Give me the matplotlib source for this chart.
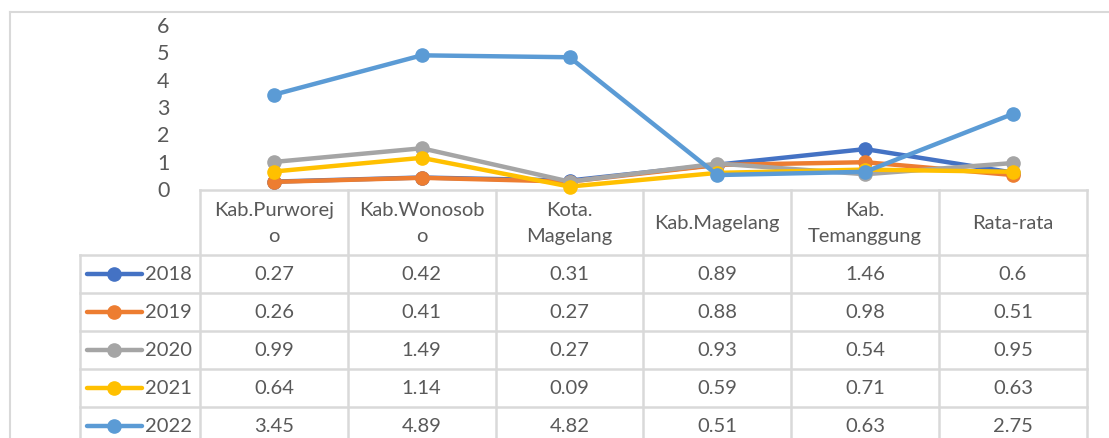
import matplotlib.pyplot as plt
from matplotlib.lines import Line2D

plt.rcParams['font.family'] = ['Lato', 'DejaVu Sans']

# data
regions = ['Kab.Purworej\no', 'Kab.Wonosob\no', 'Kota.\nMagelang', 'Kab.Magelang', 'Kab.\nTemanggung', 'Rata-rata']
years = ['2018', '2019', '2020', '2021', '2022']
v2018 = [0.27, 0.42, 0.31, 0.89, 1.46, 0.6]
v2019 = [0.26, 0.41, 0.27, 0.88, 0.98, 0.51]
v2020 = [0.99, 1.49, 0.27, 0.93, 0.54, 0.95]
v2021 = [0.64, 1.14, 0.09, 0.59, 0.71, 0.63]
v2022 = [3.45, 4.89, 4.82, 0.51, 0.63, 2.75]
series = [v2018, v2019, v2020, v2021, v2022]
colors = ['#4472C4', '#ED7D31', '#A5A5A5', '#FFC000', '#5B9BD5']

W, H = 1109, 438
fig = plt.figure(figsize=(W / 100, H / 100), dpi=100)
txt = '#595959'
grid = '#D9D9D9'
fs = 14.5

# overlay axes in pixel coords for frame + data table
ov = fig.add_axes([0, 0, 1, 1], zorder=0)
ov.set_xlim(0, W)
ov.set_ylim(H, 0)
ov.axis('off')

# chart border
ov.plot([10, 10], [12, H], color=grid, lw=1.5)
ov.plot([10, W], [12, 12], color=grid, lw=1.5)

col_x = [200 + i * 147.8 for i in range(7)]
row_y = [190, 255, 293, 331, 369, 407, 445]

# table lines
ov.plot([col_x[0], col_x[-1]], [row_y[0], row_y[0]], color=grid, lw=1.8)
for y in row_y[1:-1]:
    ov.plot([80, col_x[-1]], [y, y], color=grid, lw=1.8)
for x in col_x:
    ov.plot([x, x], [row_y[0], H], color=grid, lw=1.8)
ov.plot([80, 80], [row_y[1], H], color=grid, lw=1.8)

# header
for i, name in enumerate(regions):
    cx = (col_x[i] + col_x[i + 1]) / 2
    ov.text(cx, (row_y[0] + row_y[1]) / 2 + 1, name, ha='center', va='center',
            fontsize=fs, color=txt, linespacing=1.7)

# rows
for r, (yr, vals, c) in enumerate(zip(years, series, colors)):
    cy = (row_y[r + 1] + row_y[r + 2]) / 2
    ov.add_line(Line2D([87, 142], [cy, cy], color=c, lw=3.2,
                       solid_capstyle='round'))
    ov.plot([114], [cy], 'o', color=c, ms=9.5)
    ov.text(145, cy, yr, ha='left', va='center', fontsize=fs, color=txt)
    for i, v in enumerate(vals):
        cx = (col_x[i] + col_x[i + 1]) / 2
        ov.text(cx, cy, f'{v:g}', ha='center', va='center', fontsize=fs, color=txt)

# main plot
ax = fig.add_axes([200 / W, (H - 189) / H, 887 / W, 164 / H], zorder=2)
ax.patch.set_alpha(0)
x = list(range(len(regions)))
for vals, c in zip(series, colors):
    ax.plot(x, vals, color=c, lw=3.2, marker='o', ms=9.5, clip_on=False,
            solid_capstyle='round')
ax.set_xlim(-0.5, 5.5)
ax.set_ylim(0, 6)
ax.set_yticks(range(7))
ax.set_xticks([])
for s in ax.spines.values():
    s.set_visible(False)
ax.tick_params(axis='y', length=0, pad=22, labelsize=15.5, labelcolor=txt)

fig.savefig('out.png', dpi=100)
